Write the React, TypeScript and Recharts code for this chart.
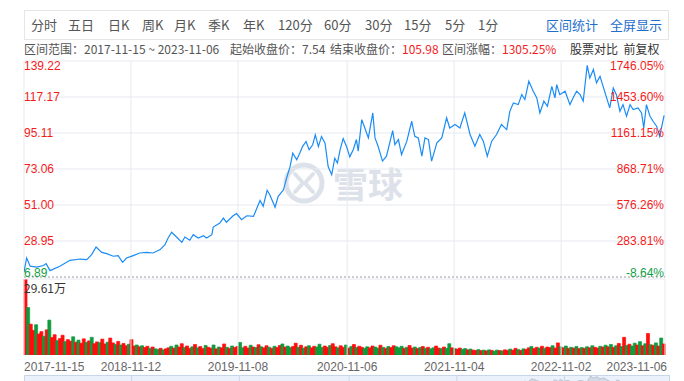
import { Area, AreaChart, Bar, BarChart, Cell, Line, LineChart, ReferenceLine, XAxis, YAxis } from "recharts"

// trading-day index (from 2017-11-15) and close price
const priceDays = [
  0, 6, 14, 29, 44, 50, 59, 81, 104, 127,
  142, 153, 163, 176, 187, 202, 213, 223, 232, 247,
  262, 278, 292, 308, 319, 326, 334, 345, 357, 364,
  375, 383, 394, 406, 413, 425, 428, 443, 451, 458,
  473, 481, 492, 504, 519, 526, 534, 541, 550, 556,
  568, 575, 587, 594, 602, 608, 617, 624, 630, 638,
  645, 653, 659, 666, 673, 681, 688, 696, 703, 709,
  715, 722, 730, 737, 745, 752, 756, 764, 771, 779,
  789, 794, 801, 811, 820, 834, 839, 847, 854, 866,
  877, 884, 892, 900, 907, 915, 922, 934, 945, 956,
  963, 975, 986, 997, 1009, 1020, 1031, 1039, 1048, 1058,
  1069, 1080, 1092, 1099, 1107, 1118, 1126, 1133, 1142, 1152,
  1160, 1167, 1176, 1184, 1194, 1201, 1205, 1212, 1224, 1235,
  1242, 1250, 1258, 1265, 1274, 1280, 1288, 1295, 1303, 1310,
  1318, 1325, 1333, 1340, 1348, 1355, 1363, 1371, 1378, 1389,
  1397, 1402, 1408, 1416, 1423, 1431, 1438, 1442, 1448,
]
const prices = [
  10.0, 18.5, 13.5, 13.0, 13.9, 15.1, 10.8, 13.5, 17.1, 17.9,
  17.5, 20.6, 25.3, 22.0, 21.2, 19.6, 20.0, 15.9, 18.5, 20.0,
  21.6, 22.0, 21.6, 23.7, 26.7, 30.8, 34.3, 31.4, 28.1, 31.4,
  29.4, 32.8, 30.8, 32.2, 30.8, 32.8, 37.5, 39.9, 43.0, 40.4,
  44.4, 45.7, 42.0, 44.4, 44.0, 48.5, 53.8, 50.2, 60.0, 57.3,
  49.7, 56.3, 60.3, 67.5, 74.6, 82.8, 78.7, 82.8, 86.8, 89.9,
  84.8, 87.9, 94.0, 86.8, 93.0, 88.9, 74.6, 69.5, 79.7, 76.7,
  84.8, 91.7, 86.5, 80.5, 85.0, 91.1, 84.0, 103.3, 98.2, 92.1,
  107.4, 92.1, 87.0, 77.9, 80.9, 96.6, 88.0, 91.1, 81.9, 90.1,
  102.3, 93.1, 92.1, 80.9, 92.1, 91.1, 77.9, 89.1, 92.1, 104.4,
  98.2, 100.3, 98.2, 107.4, 94.2, 87.0, 94.2, 90.1, 80.9, 90.1,
  94.2, 100.3, 97.2, 108.4, 113.5, 112.5, 118.6, 115.6, 126.8, 120.7,
  116.6, 107.4, 114.6, 111.5, 123.7, 116.6, 124.7, 118.6, 120.7, 112.5,
  116.6, 120.7, 118.6, 114.6, 136.5, 128.8, 134.0, 125.8, 129.8, 123.7,
  116.6, 110.5, 122.7, 118.6, 108.4, 112.5, 105.4, 112.5, 109.5, 110.5,
  107.4, 98.2, 112.5, 105.4, 102.3, 99.3, 93.1, 98.2, 105.98,
]

const priceTicks = [6.89, 28.95, 51.0, 73.06, 95.11, 117.17, 139.22]
const pctLabels = ["-8.64%", "283.81%", "576.26%", "868.71%", "1161.15%", "1453.60%", "1746.05%"]

const dateTicks = [0, 242, 484, 731, 973, 1215, 1450]
const dateLabels = ["2017-11-15", "2018-11-12", "2019-11-08", "2020-11-06", "2021-11-04", "2022-11-02", "2023-11-06"]

// volume in 万手, one bar every 6 trading days
const VOL_STEP = 6
const volumes = [
  29.61, 18.5, 12.0, 9.6, 11.8, 8.2, 9.1, 7.3, 9.8, 13.6,
  6.8, 7.9, 5.6, 6.4, 7.7, 5.2, 6.0, 5.4, 7.1, 5.0,
  5.8, 4.6, 6.3, 4.9, 5.5, 6.9, 4.4, 5.1, 4.8, 6.2,
  4.3, 5.0, 6.6, 4.7, 4.1, 5.3, 3.9, 4.5, 3.6, 4.2,
  6.0, 3.5, 3.9, 3.2, 3.6, 2.9, 3.4, 2.6, 3.1, 2.4,
  2.2, 2.6, 2.0, 2.4, 2.8, 3.4, 2.7, 3.9, 3.1, 4.4,
  2.9, 3.5, 2.6, 3.2, 4.1, 2.8, 3.3, 2.5, 3.7, 3.0,
  2.7, 3.9, 2.4, 3.1, 2.8, 4.3, 3.0, 2.6, 3.5, 2.9,
  3.3, 4.9, 2.8, 3.4, 2.7, 3.8, 3.1, 2.9, 4.0, 3.2,
  2.8, 3.6, 3.0, 2.6, 3.4, 2.9, 3.7, 4.3, 3.1, 3.5,
  2.9, 3.3, 4.6, 3.0, 3.8, 2.7, 3.2, 3.6, 2.8, 3.4,
  3.1, 4.2, 2.9, 3.5, 3.0, 3.7, 4.4, 3.2, 2.8, 3.6,
  3.0, 3.9, 2.7, 3.3, 4.1, 2.9, 3.4, 3.0, 2.6, 3.2,
  2.8, 3.5, 3.1, 2.7, 3.8, 3.0, 2.6, 3.3, 2.9, 3.6,
  3.2, 2.8, 3.4, 2.6, 3.0, 3.7, 2.7, 3.1, 2.5, 2.9,
  3.3, 2.6, 3.0, 2.4, 2.8, 3.5, 2.7, 2.5, 3.1, 2.6,
  4.4, 2.8, 2.5, 2.3, 2.7, 2.2, 2.5, 2.0, 2.3, 1.9,
  1.8, 2.1, 1.7, 1.9, 1.6, 2.0, 1.8, 1.5, 1.9, 1.7,
  1.6, 2.0, 1.8, 2.3, 1.9, 2.6, 2.1, 1.8, 2.4, 2.2,
  2.8, 3.3, 2.5, 3.0, 2.7, 3.4, 2.6, 3.1, 2.9, 3.6,
  2.7, 4.7, 3.2, 2.8, 3.5, 2.6, 3.0, 2.7, 3.3, 2.5,
  2.9, 2.6, 3.2, 2.8, 3.6, 3.0, 2.7, 3.4, 3.1, 3.8,
  3.2, 4.1, 3.0, 3.6, 4.5, 3.3, 6.9, 3.7, 4.2, 3.5,
  4.6, 3.9, 5.2, 3.6, 4.4, 8.4, 4.0, 3.8, 4.7, 3.5,
  6.6, 4.3,
]
// r = up day, g = down day
const volDirs =
  "rgrrgrrgrg" + "rrgrrgrrgr" + "grrgrgrrgr" + "rgrrgrgrrg" + "rrgrgrrgrg" +
  "grgrrgrgrr" + "grrgrgrrgr" + "rgrgrrgrgr" + "rggrrgrgrg" + "rrgrgrrgrg" +
  "grrgrgrgrr" + "gggrrgrrgr" + "rgrgrgrrgg" + "rrggrgrgrr" + "gggrgrrgrg" +
  "rgrggrrgrg" + "grgrrggrgr" + "rgrgrgrggr" + "grrgrrgrgr" + "rgrrgrgrrg" +
  "rrgrgrgrgr" + "grgrgrrgrg" + "rgrgrgrgrg" + "grgrgrgrgr" + "gr"

const tools = ["分时", "五日", "日K", "周K", "月K", "季K", "年K", "120分", "60分", "30分", "15分", "5分", "1分"]
const toolLeft = [31, 68, 108, 142, 174, 208, 243, 278, 324, 365, 404, 445, 478]

const RED = "#f51b1b"
const GREEN = "#12a047"
const BLUE_LINE = "#1a8cf7"
const GRID = "#e6e9ef"
const VOL_UP = "#ff0d0d"
const VOL_DOWN = "#0e9b3e"
const NUM_FONT = "Arial, 'Liberation Sans', 'Noto Sans CJK SC', sans-serif"
const CJK_FONT = "'Noto Sans CJK SC', Arial, sans-serif"
const DAY_MAX = 1450

const priceData = priceDays.map((d, i) => ({ d, p: prices[i] }))
const volData = volumes.map((v, i) => ({ d: i * VOL_STEP, v, up: volDirs[i] === "r" }))

function PriceTick(props: any) {
  const { y, payload } = props
  const i = priceTicks.indexOf(payload.value)
  const shift = i === priceTicks.length - 1 ? 5 : i === 0 ? -4 : 0
  return (
    <text x={24} y={y + shift} dominantBaseline="central" textAnchor="start" fontSize={12} fontFamily={NUM_FONT} fill={i === 0 ? GREEN : RED}>
      {payload.value.toFixed(2)}
    </text>
  )
}

function PctTick(props: any) {
  const { y, payload } = props
  const i = priceTicks.indexOf(payload.value)
  const shift = i === priceTicks.length - 1 ? 5 : i === 0 ? -4 : 0
  return (
    <text x={664} y={y + shift} dominantBaseline="central" textAnchor="end" fontSize={12} fontFamily={NUM_FONT} fill={i === 0 ? GREEN : RED}>
      {pctLabels[i]}
    </text>
  )
}

function VolTick(props: any) {
  const { y, payload } = props
  return (
    <text x={24} y={y + 8} dominantBaseline="central" fontSize={12} fontFamily={CJK_FONT} fill="#333">
      {payload.value}万
    </text>
  )
}

function DateTick(props: any) {
  const { x, payload } = props
  const i = dateTicks.indexOf(payload.value)
  const anchor = i === 0 ? "start" : i === dateTicks.length - 1 ? "end" : "middle"
  return (
    <text x={i === dateTicks.length - 1 ? x + 2 : x} y={367} dominantBaseline="central" textAnchor={anchor} fontSize={12} fontFamily={NUM_FONT} fill="#666">
      {dateLabels[i]}
    </text>
  )
}

export default function App() {
  return (
    <div style={{ position: "absolute", left: 0, top: 0, width: 684, height: 381, overflow: "hidden", background: "#fff" }}>
      {/* toolbar */}
      <div style={{ position: "absolute", left: 24, top: 10, width: 643, height: 28, border: "1px solid #e6e6e6" }} />
      {tools.map((t, i) => (
        <span key={t} style={{ position: "absolute", left: toolLeft[i], top: 16, fontSize: 13, lineHeight: "18px", fontFamily: CJK_FONT, color: "#555" }}>
          {t}
        </span>
      ))}
      <span style={{ position: "absolute", left: 546, top: 16, fontSize: 13, lineHeight: "18px", fontFamily: CJK_FONT, color: "#1f6fcb" }}>区间统计</span>
      <span style={{ position: "absolute", left: 610, top: 16, fontSize: 13, lineHeight: "18px", fontFamily: CJK_FONT, color: "#1f6fcb" }}>全屏显示</span>

      {/* info line */}
      <div style={{ position: "absolute", left: 24, top: 41, fontSize: 12, lineHeight: "16px", fontFamily: CJK_FONT, color: "#555", whiteSpace: "pre" }}>
        区间范围：2017-11-15 ~ 2023-11-06
      </div>
      <div style={{ position: "absolute", left: 230, top: 41, fontSize: 12, lineHeight: "16px", fontFamily: CJK_FONT, color: "#555", whiteSpace: "nowrap" }}>
        起始收盘价：7.54
      </div>
      <div style={{ position: "absolute", left: 330, top: 41, fontSize: 12, lineHeight: "16px", fontFamily: CJK_FONT, color: "#555", whiteSpace: "nowrap" }}>
        结束收盘价：<span style={{ color: RED }}>105.98</span>
      </div>
      <div style={{ position: "absolute", left: 442, top: 41, fontSize: 12, lineHeight: "16px", fontFamily: CJK_FONT, color: "#555", whiteSpace: "nowrap" }}>
        区间涨幅：<span style={{ color: RED }}>1305.25%</span>
      </div>
      <div style={{ position: "absolute", left: 570, top: 41, fontSize: 12, lineHeight: "16px", fontFamily: CJK_FONT, color: "#333", whiteSpace: "pre" }}>
        股票对比  前复权
      </div>

      {/* watermark */}
      <svg width={684} height={381} style={{ position: "absolute", left: 0, top: 0 }}>
        <circle cx={304} cy={183} r={18} fill="none" stroke="#dde2ea" strokeWidth={5} />
        <path d="M295,174 L303,183 L295,192 M313,174 L305,183 L313,192" fill="none" stroke="#dde2ea" strokeWidth={4} strokeLinecap="round" />
        <text x={333} y={198} fontSize={35} fontWeight="bold" fontFamily={CJK_FONT} fill="#dde2ea">雪球</text>
      </svg>

      {/* price panel */}
      <div style={{ position: "absolute", left: 0, top: 0 }}>
        <LineChart width={684} height={381} data={priceData} margin={{ top: 61, right: 19, bottom: 104, left: 24 }}>
          <XAxis type="number" dataKey="d" domain={[0, DAY_MAX]} allowDataOverflow hide />
          <YAxis yAxisId="left" mirror domain={[6.89, 139.22]} allowDataOverflow ticks={priceTicks} interval={0} axisLine={false} tickLine={false} tick={<PriceTick />} />
          <YAxis yAxisId="right" orientation="right" mirror domain={[6.89, 139.22]} allowDataOverflow ticks={priceTicks} interval={0} axisLine={false} tickLine={false} tick={<PctTick />} />
          {priceTicks.slice(1).map((t) => (
            <ReferenceLine key={t} yAxisId="left" y={t} stroke={GRID} />
          ))}
          {dateTicks.map((t) => (
            <ReferenceLine key={t} yAxisId="left" x={t} stroke={GRID} />
          ))}
          <ReferenceLine yAxisId="left" y={6.89} stroke="#9a9a9a" strokeDasharray="2 2" />
          <Line yAxisId="left" type="linear" dataKey="p" stroke={BLUE_LINE} strokeWidth={1.2} dot={false} isAnimationActive={false} />
        </LineChart>
      </div>

      {/* volume panel */}
      <div style={{ position: "absolute", left: 0, top: 0 }}>
        <BarChart width={684} height={381} data={volData} margin={{ top: 279, right: 19, bottom: 0, left: 24 }} barCategoryGap={0} barGap={0}>
          <XAxis xAxisId="bars" type="category" dataKey="d" hide />
          <XAxis xAxisId="days" type="number" dataKey="d" domain={[0, DAY_MAX]} allowDataOverflow ticks={dateTicks} interval={0} height={26} axisLine={false} tickLine={false} tick={<DateTick />} />
          <YAxis mirror domain={[0, 29.61]} allowDataOverflow ticks={[29.61]} interval={0} axisLine={false} tickLine={false} tick={<VolTick />} />
          {dateTicks.map((t) => (
            <ReferenceLine key={t} xAxisId="days" x={t} stroke={GRID} />
          ))}
          <ReferenceLine xAxisId="days" y={29.61} stroke={GRID} />
          <Bar xAxisId="bars" dataKey="v" isAnimationActive={false}>
            {volData.map((e, i) => (
              <Cell key={i} fill={e.up ? VOL_UP : VOL_DOWN} stroke={e.up ? VOL_UP : VOL_DOWN} strokeWidth={0.7} />
            ))}
          </Bar>
        </BarChart>
      </div>

      {/* navigator */}
      <div style={{ position: "absolute", left: 24, top: 375, width: 644, height: 20, background: "#eaf1fb", border: "1px solid #c8d6ea" }} />
      <div style={{ position: "absolute", left: 24, top: 375 }}>
        <AreaChart width={645} height={40} data={priceData} margin={{ top: 0, right: 0, bottom: 0, left: 0 }}>
          <XAxis type="number" dataKey="d" domain={[0, DAY_MAX]} hide />
          <YAxis domain={[0, 140]} hide />
          {dateTicks.slice(1, -1).map((t) => (
            <ReferenceLine key={t} x={t} stroke="#c8d6ea" />
          ))}
          <Area type="linear" dataKey="p" stroke="#b7c3d3" fill="#d3dbe6" fillOpacity={1} isAnimationActive={false} />
        </AreaChart>
      </div>
    </div>
  )
}
